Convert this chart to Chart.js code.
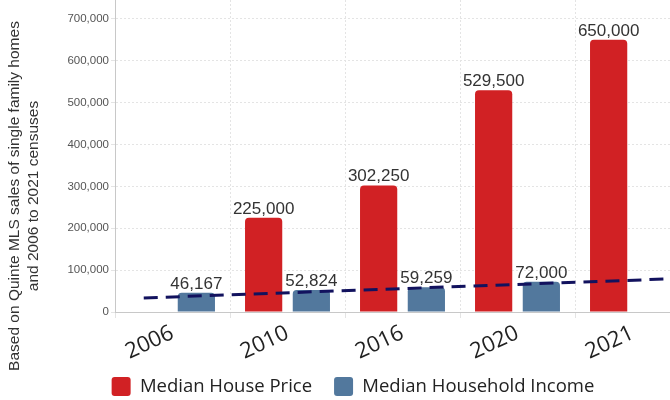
<!DOCTYPE html>
<html>
<head>
<meta charset="utf-8">
<script src="https://cdn.jsdelivr.net/npm/chart.js@4"></script>
<style>
  html, body { margin: 0; padding: 0; background: #fff; overflow: hidden; }
  #wrap { position: relative; width: 700px; height: 415px; }
</style>
</head>
<body>
<div id="wrap"><canvas id="chart" width="700" height="415"></canvas></div>
<script>
const years = ["2006", "2010", "2016", "2020", "2021"];
const housePrice = [null, 225000, 302250, 529500, 650000];
const householdIncome = [46167, 52824, 59259, 72000, null];
// dashed trend line (x in category units)
const trendX = [-0.25, 4.5];
const trendY = [33500, 80900];
const yTicks = [0, 100000, 200000, 300000, 400000, 500000, 600000, 700000];
const yTitle = ["Based on Quinte MLS sales of single family homes", "and 2006 to 2021 censuses"];

const RED = "#d12124";
const BLUE = "#52789d";
const NAVY = "#12125e";
const fmt = (v) => v.toLocaleString("en-US");
const points = (arr) => arr.map((y, i) => ({ x: i, y }));

const valueLabels = {
  id: "valueLabels",
  afterDatasetsDraw(chart) {
    const ctx = chart.ctx;
    ctx.save();
    ctx.font = '17px "Liberation Sans"';
    ctx.fillStyle = "#333";
    ctx.textAlign = "center";
    ctx.textBaseline = "alphabetic";
    [0, 1].forEach((di) => {
      chart.getDatasetMeta(di).data.forEach((bar, i) => {
        const v = chart.data.datasets[di].data[i].y;
        if (v == null) return;
        ctx.fillText(fmt(v), bar.x, bar.y - 4);
      });
    });
    ctx.restore();
  },
};

const sideTitle = {
  id: "sideTitle",
  afterDraw(chart) {
    const ctx = chart.ctx;
    ctx.save();
    ctx.translate(0, 196);
    ctx.rotate(-Math.PI / 2);
    ctx.font = '15.5px "Liberation Sans"';
    ctx.fillStyle = "#333";
    ctx.textAlign = "center";
    ctx.textBaseline = "middle";
    yTitle.forEach((line, i) => ctx.fillText(line, 0, 15 + i * 19));
    ctx.restore();
  },
};

// pull the legend up a little so it sits closer to the rotated year labels
const legendNudge = {
  id: "legendNudge",
  afterLayout(chart) {
    chart.legend.top -= 9;
    chart.legend.bottom -= 9;
  },
};

const barStyle = {
  borderRadius: { topLeft: 4, topRight: 4 },
  borderSkipped: "bottom",
  categoryPercentage: 0.83,
  barPercentage: 0.78,
  order: 2,
};

new Chart(document.getElementById("chart"), {
  type: "bar",
  data: {
    datasets: [
      { label: "Median House Price", data: points(housePrice), backgroundColor: RED, ...barStyle },
      { label: "Median Household Income", data: points(householdIncome), backgroundColor: BLUE, ...barStyle },
      {
        type: "line",
        label: "trend",
        data: trendX.map((x, i) => ({ x, y: trendY[i] })),
        borderColor: NAVY,
        borderWidth: 3,
        borderDash: [14, 8],
        pointRadius: 0,
        fill: false,
        order: 0,
      },
    ],
  },
  options: {
    responsive: false,
    animation: false,
    devicePixelRatio: 1,
    layout: { padding: { left: 16, right: 10, top: 0, bottom: 0 } },
    plugins: {
      legend: {
        position: "bottom",
        labels: {
          filter: (item) => item.datasetIndex < 2,
          boxWidth: 19,
          boxHeight: 19,
          useBorderRadius: true,
          borderRadius: 3,
          padding: 22,
          color: "#222",
          font: { family: "Open Sans", size: 18.5 },
        },
      },
      tooltip: { enabled: false },
    },
    scales: {
      x: {
        type: "linear",
        min: -0.5,
        max: 4.5,
        offset: false,
        afterBuildTicks(scale) {
          scale.ticks = years.map((_, i) => ({ value: i }));
        },
        grid: { color: "#e4e4e4", tickLength: 6 },
        border: { color: "#c8c8c8", dash: [2, 2] },
        ticks: {
          color: "#222",
          font: { family: "Open Sans", size: 22 },
          minRotation: 25,
          maxRotation: 25,
          padding: 2,
          callback: (v) => years[v],
        },
        afterFit(scale) {
          scale.height = 52;
        },
      },
      y: {
        min: 0,
        max: 745000,
        afterBuildTicks(scale) {
          scale.ticks = yTicks.map((value) => ({ value }));
        },
        grid: { color: "#e4e4e4", tickLength: 4 },
        border: { color: "#c8c8c8", dash: [2, 2] },
        ticks: {
          color: "#555",
          font: { family: "Liberation Sans", size: 11.5 },
          padding: 2,
          callback: (v) => fmt(v),
        },
        afterFit(scale) {
          scale.width = 99;
          scale.paddingTop = 0;
          scale.paddingBottom = 0;
        },
      },
    },
  },
  plugins: [valueLabels, sideTitle, legendNudge],
});
</script>
</body>
</html>
